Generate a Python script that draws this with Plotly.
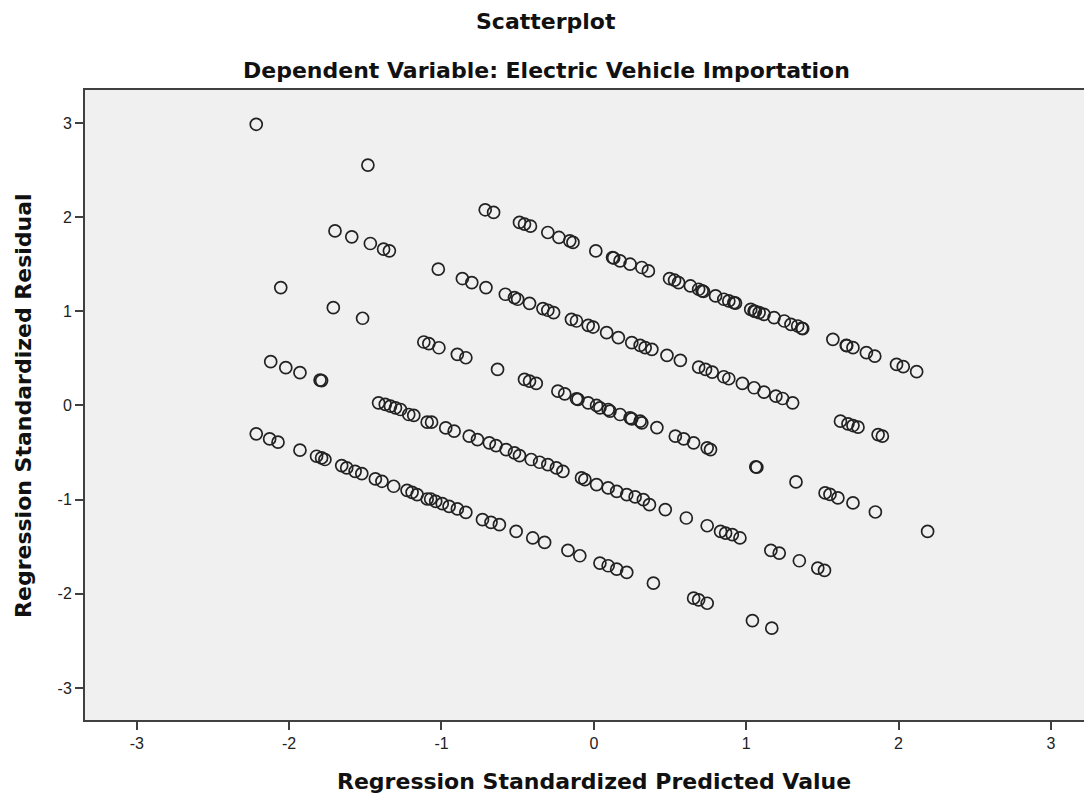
import plotly.graph_objects as go

# ---- data ----
band_a_x = [-2.216, -1.483]
band_a_y = [2.986, 2.553]

band_b_x = [-0.713, -0.658, -0.488, -0.455, -0.416, -0.302, -0.229, -0.158, -0.137, 0.013,
            0.123, 0.13, 0.172, 0.238, 0.315, 0.358, 0.497, 0.53, 0.556, 0.634, 0.688, 0.711,
            0.72, 0.799, 0.853, 0.886, 0.919, 0.93, 1.03, 1.052, 1.06, 1.085, 1.117, 1.183,
            1.25, 1.294, 1.338, 1.365, 1.371, 1.569, 1.657, 1.66, 1.701, 1.789, 1.844, 1.987,
            2.031, 2.119]
band_b_y = [2.078, 2.05, 1.944, 1.926, 1.904, 1.837, 1.784, 1.748, 1.731, 1.641,
            1.571, 1.566, 1.535, 1.5, 1.465, 1.429, 1.348, 1.33, 1.305, 1.269, 1.234, 1.216,
            1.21, 1.163, 1.128, 1.11, 1.093, 1.087, 1.02, 1.003, 0.998, 0.986, 0.968, 0.933,
            0.897, 0.862, 0.844, 0.82, 0.816, 0.702, 0.638, 0.636, 0.614, 0.561, 0.524, 0.436,
            0.412, 0.359]

band_c_x = [-1.699, -1.589, -1.467, -1.38, -1.342, -1.021, -0.863, -0.801, -0.708, -0.581,
            -0.521, -0.5, -0.422, -0.334, -0.302, -0.264, -0.147, -0.114, -0.037, -0.005,
            0.084, 0.161, 0.249, 0.304, 0.337, 0.381, 0.48, 0.568, 0.688, 0.733, 0.777, 0.853,
            0.886, 0.975, 1.052, 1.117, 1.195, 1.239, 1.305, 1.619, 1.668, 1.701, 1.734, 1.866,
            1.894]
band_c_y = [1.854, 1.791, 1.72, 1.66, 1.642, 1.447, 1.348, 1.305, 1.252, 1.181,
            1.146, 1.128, 1.085, 1.029, 1.011, 0.986, 0.915, 0.897, 0.851, 0.833,
            0.773, 0.72, 0.667, 0.638, 0.614, 0.596, 0.532, 0.479, 0.407, 0.383, 0.355, 0.305,
            0.284, 0.234, 0.188, 0.142, 0.099, 0.074, 0.028, -0.167, -0.195, -0.213, -0.23, -0.309,
            -0.326]

band_d_x = [-2.055, -1.71, -1.518, -1.116, -1.083, -1.017, -0.896, -0.84, -0.632, -0.455,
            -0.422, -0.378, -0.236, -0.191, -0.114, -0.104, -0.037, 0.018, 0.04, 0.094,
            0.106, 0.172, 0.238, 0.249, 0.304, 0.315, 0.414, 0.535, 0.59, 0.655, 0.744, 0.766,
            1.063, 1.07, 1.327, 1.518, 1.55, 1.602, 1.701, 1.848, 2.191]
band_d_y = [1.252, 1.039, 0.926, 0.674, 0.656, 0.613, 0.543, 0.507, 0.383, 0.277,
            0.259, 0.234, 0.152, 0.124, 0.071, 0.064, 0.028, 0.0, -0.025, -0.043,
            -0.06, -0.096, -0.131, -0.142, -0.167, -0.184, -0.235, -0.326, -0.355, -0.397, -0.45, -0.468,
            -0.652, -0.656, -0.812, -0.929, -0.945, -0.982, -1.035, -1.131, -1.337]

band_e_x = [-2.121, -2.022, -1.929, -1.797, -1.787, -1.413, -1.369, -1.335, -1.302, -1.269,
            -1.215, -1.182, -1.094, -1.065, -0.972, -0.917, -0.818, -0.764, -0.686, -0.642,
            -0.576, -0.521, -0.488, -0.411, -0.356, -0.302, -0.246, -0.203, -0.081, -0.059,
            0.018, 0.094, 0.15, 0.216, 0.271, 0.325, 0.365, 0.469, 0.607, 0.744, 0.832, 0.865,
            0.909, 0.959, 1.162, 1.217, 1.349, 1.47, 1.514]
band_e_y = [0.465, 0.401, 0.348, 0.27, 0.264, 0.028, 0.011, -0.007, -0.025, -0.043,
            -0.096, -0.106, -0.177, -0.177, -0.238, -0.273, -0.326, -0.362, -0.397, -0.426,
            -0.468, -0.503, -0.532, -0.574, -0.603, -0.628, -0.663, -0.699, -0.769, -0.787,
            -0.84, -0.876, -0.912, -0.947, -0.971, -1.0, -1.053, -1.106, -1.195, -1.277, -1.337, -1.355,
            -1.372, -1.407, -1.539, -1.567, -1.649, -1.727, -1.752]

band_f_x = [-2.216, -2.128, -2.073, -1.929, -1.82, -1.787, -1.765, -1.655, -1.622, -1.567,
            -1.523, -1.434, -1.391, -1.314, -1.226, -1.193, -1.16, -1.094, -1.071, -1.038,
            -0.995, -0.95, -0.896, -0.84, -0.731, -0.675, -0.62, -0.51, -0.401, -0.323,
            -0.17, -0.092, 0.04, 0.094, 0.15, 0.216, 0.391, 0.655, 0.688, 0.744, 1.041, 1.168]
band_f_y = [-0.301, -0.355, -0.39, -0.475, -0.539, -0.557, -0.574, -0.638, -0.663, -0.699,
            -0.723, -0.78, -0.805, -0.858, -0.901, -0.922, -0.947, -0.993, -0.993, -1.018,
            -1.043, -1.071, -1.099, -1.135, -1.213, -1.241, -1.266, -1.337, -1.407, -1.454,
            -1.539, -1.596, -1.674, -1.702, -1.738, -1.773, -1.887, -2.046, -2.064, -2.1, -2.284, -2.365]

tick_vals = [-3, -2, -1, 0, 1, 2, 3]
tick_text = ["-3", "-2", "-1", "0", "1", "2", "3"]

title_text = "Scatterplot"
subtitle_text = "Dependent Variable: Electric Vehicle Importation"
x_title = "Regression Standardized Predicted Value"
y_title = "Regression Standardized Residual"

pred = band_a_x + band_b_x + band_c_x + band_d_x + band_e_x + band_f_x
resid = band_a_y + band_b_y + band_c_y + band_d_y + band_e_y + band_f_y

# ---- figure ----
fig = go.Figure()
fig.add_trace(go.Scatter(
    x=pred, y=resid, mode="markers",
    marker=dict(symbol="circle-open", size=12, color="#222222",
                line=dict(width=1.7, color="#222222")),
    showlegend=False, hoverinfo="x+y"))

axis_line = "#404040"
tick_font = dict(family="Liberation Sans, Arial, sans-serif", size=16, color="#222222")
bold_font = dict(family="DejaVu Sans, Verdana, sans-serif", size=22, color="#111111")

# the page body has an 8px margin, so the figure is sized to fit inside the window
fig.update_layout(
    width=1084, height=789, autosize=False,
    margin=dict(l=77, r=0, t=82, b=77),
    paper_bgcolor="white", plot_bgcolor="#F0F0F0",
    xaxis=dict(range=[-3.34, 3.27], tickvals=tick_vals, ticktext=tick_text,
               ticks="outside", ticklen=8, tickwidth=1.5, tickcolor=axis_line,
               showline=True, linecolor=axis_line, linewidth=2, mirror=True,
               showgrid=False, zeroline=False, tickfont=tick_font),
    yaxis=dict(range=[-3.34, 3.35], tickvals=tick_vals, ticktext=tick_text,
               ticks="outside", ticklen=8, tickwidth=1.5, tickcolor=axis_line,
               showline=True, linecolor=axis_line, linewidth=2, mirror=False,
               showgrid=False, zeroline=False, tickfont=tick_font),
)

fig.add_annotation(text="<b>" + title_text + "</b>", xref="paper", yref="paper",
                   x=0.4578, y=1.108, xanchor="center", yanchor="middle",
                   showarrow=False, font=bold_font)
fig.add_annotation(text="<b>" + subtitle_text + "</b>", xref="paper", yref="paper",
                   x=0.4578, y=1.0317, xanchor="center", yanchor="middle",
                   showarrow=False, font=bold_font)
fig.add_annotation(text="<b>" + x_title + "</b>", xref="x", yref="paper",
                   x=0, y=-0.0984, xanchor="center", yanchor="middle",
                   showarrow=False, font=bold_font)
fig.add_annotation(text="<b>" + y_title + "</b>", xref="paper", yref="paper",
                   x=-0.0616, y=0.5, xanchor="center", yanchor="middle", textangle=-90,
                   showarrow=False, font=bold_font)

fig.write_html("out.html")
